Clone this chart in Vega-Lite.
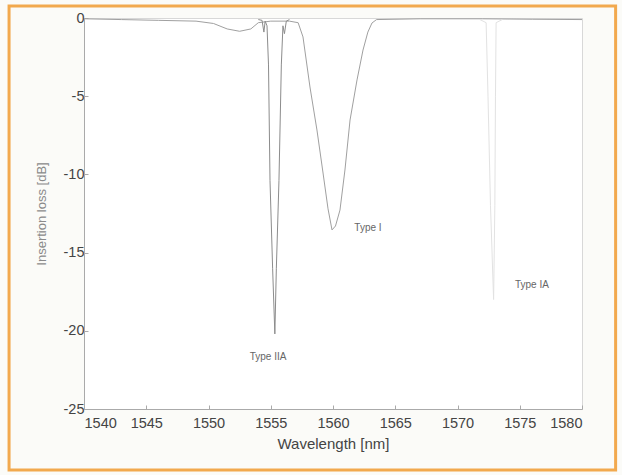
{
  "$schema": "https://vega.github.io/schema/vega-lite/v6.json",
  "width": 498,
  "height": 391,
  "autosize": {"type": "none"},
  "padding": {"left": 84, "top": 18, "right": 40, "bottom": 66},
  "background": "#fbfbf8",
  "config": {
    "view": {"stroke": "#d8d8d8", "strokeWidth": 1, "fill": "#ffffff"},
    "font": "Liberation Sans",
    "axis": {
      "grid": false,
      "domainColor": "#aaaaaa",
      "tickColor": "#aaaaaa",
      "labelColor": "#444444",
      "labelFontSize": 14.5,
      "labelFont": "Liberation Sans",
      "titleFont": "Liberation Sans",
      "titleFontWeight": "normal"
    }
  },
  "datasets": {
    "curves": [
      {"wl": 1540, "loss": -0.05, "grating": "Type I"},
      {"wl": 1543, "loss": -0.1, "grating": "Type I"},
      {"wl": 1546, "loss": -0.15, "grating": "Type I"},
      {"wl": 1549, "loss": -0.2, "grating": "Type I"},
      {"wl": 1550.4, "loss": -0.35, "grating": "Type I"},
      {"wl": 1551.5, "loss": -0.7, "grating": "Type I"},
      {"wl": 1552.5, "loss": -0.85, "grating": "Type I"},
      {"wl": 1553.4, "loss": -0.7, "grating": "Type I"},
      {"wl": 1554, "loss": -0.3, "grating": "Type I"},
      {"wl": 1555, "loss": -0.2, "grating": "Type I"},
      {"wl": 1556.5, "loss": -0.2, "grating": "Type I"},
      {"wl": 1557.2, "loss": -0.3, "grating": "Type I"},
      {"wl": 1557.59, "loss": -1.21, "grating": "Type I"},
      {"wl": 1558.15, "loss": -4.41, "grating": "Type I"},
      {"wl": 1558.71, "loss": -7.16, "grating": "Type I"},
      {"wl": 1559.2, "loss": -9.91, "grating": "Type I"},
      {"wl": 1559.6, "loss": -12.2, "grating": "Type I"},
      {"wl": 1559.92, "loss": -13.55, "grating": "Type I"},
      {"wl": 1560.2, "loss": -13.3, "grating": "Type I"},
      {"wl": 1560.56, "loss": -12.28, "grating": "Type I"},
      {"wl": 1560.96, "loss": -9.72, "grating": "Type I"},
      {"wl": 1561.37, "loss": -6.52, "grating": "Type I"},
      {"wl": 1561.93, "loss": -3.96, "grating": "Type I"},
      {"wl": 1562.41, "loss": -2.05, "grating": "Type I"},
      {"wl": 1562.8, "loss": -0.9, "grating": "Type I"},
      {"wl": 1563.13, "loss": -0.32, "grating": "Type I"},
      {"wl": 1563.5, "loss": -0.1, "grating": "Type I"},
      {"wl": 1567, "loss": -0.05, "grating": "Type I"},
      {"wl": 1572, "loss": -0.05, "grating": "Type I"},
      {"wl": 1576, "loss": -0.08, "grating": "Type I"},
      {"wl": 1580, "loss": -0.1, "grating": "Type I"},
      {"wl": 1554.0, "loss": -0.1, "grating": "Type IIA"},
      {"wl": 1554.3, "loss": -0.15, "grating": "Type IIA"},
      {"wl": 1554.45, "loss": -0.9, "grating": "Type IIA"},
      {"wl": 1554.55, "loss": -0.2, "grating": "Type IIA"},
      {"wl": 1554.7, "loss": -0.5, "grating": "Type IIA"},
      {"wl": 1554.82, "loss": -3, "grating": "Type IIA"},
      {"wl": 1554.94, "loss": -10.4, "grating": "Type IIA"},
      {"wl": 1555.15, "loss": -16, "grating": "Type IIA"},
      {"wl": 1555.33, "loss": -20.2, "grating": "Type IIA"},
      {"wl": 1555.45, "loss": -16, "grating": "Type IIA"},
      {"wl": 1555.66, "loss": -10.4, "grating": "Type IIA"},
      {"wl": 1555.85, "loss": -3, "grating": "Type IIA"},
      {"wl": 1555.98, "loss": -0.5, "grating": "Type IIA"},
      {"wl": 1556.1, "loss": -1.0, "grating": "Type IIA"},
      {"wl": 1556.25, "loss": -0.2, "grating": "Type IIA"},
      {"wl": 1556.5, "loss": -0.1, "grating": "Type IIA"},
      {"wl": 1571.8, "loss": -0.1, "grating": "Type IA"},
      {"wl": 1572.3, "loss": -0.3, "grating": "Type IA"},
      {"wl": 1572.45, "loss": -5, "grating": "Type IA"},
      {"wl": 1572.65, "loss": -12, "grating": "Type IA"},
      {"wl": 1572.9, "loss": -18, "grating": "Type IA"},
      {"wl": 1573.0, "loss": -12, "grating": "Type IA"},
      {"wl": 1573.05, "loss": -5, "grating": "Type IA"},
      {"wl": 1573.1, "loss": -0.3, "grating": "Type IA"},
      {"wl": 1573.6, "loss": -0.1, "grating": "Type IA"}
    ],
    "labels": [
      {"wl": 1554.78, "loss": -21.7, "text": "Type IIA"},
      {"wl": 1562.81, "loss": -13.43, "text": "Type I"},
      {"wl": 1575.98, "loss": -17.07, "text": "Type IA"}
    ]
  },
  "layer": [
    {
      "data": {"values": [{}]},
      "mark": {"type": "rect", "fill": "transparent", "stroke": "#f2a94e", "strokeWidth": 3, "clip": false},
      "encoding": {
        "x": {"datum": 1533.98, "type": "quantitative"},
        "x2": {"datum": 1582.7},
        "y": {"datum": 0.77, "type": "quantitative"},
        "y2": {"datum": -28.9}
      }
    },
    {
      "data": {"name": "curves"},
      "mark": {"type": "line", "strokeWidth": 1, "interpolate": "linear"},
      "encoding": {
        "x": {
          "field": "wl", "type": "quantitative",
          "scale": {"domain": [1540, 1580], "nice": false, "zero": false},
          "axis": {
            "title": "Wavelength [nm]", "titleFontSize": 15, "titleColor": "#444444",
            "titlePadding": 7, "values": [1540, 1545, 1550, 1555, 1560, 1565, 1570, 1575, 1580],
            "tickSize": -4, "labelPadding": 11, "labelExpr": "toString(datum.value)"
          }
        },
        "y": {
          "field": "loss", "type": "quantitative",
          "scale": {"domain": [-25, 0], "nice": false, "zero": false},
          "axis": {
            "title": "Insertion loss [dB]", "titleFontSize": 13, "titleColor": "#8a8a8a",
            "titlePadding": 15, "values": [-25, -20, -15, -10, -5, 0], "tickSize": -4, "labelPadding": 4,
            "labelExpr": "toString(datum.value)"
          }
        },
        "color": {
          "field": "grating", "type": "nominal",
          "scale": {"domain": ["Type I", "Type IIA", "Type IA"], "range": ["#a0a0a0", "#8c8c8c", "#e2e2e2"]},
          "legend": null
        },
        "detail": {"field": "grating"}
      }
    },
    {
      "data": {"name": "labels"},
      "mark": {"type": "text", "fontSize": 10, "color": "#666666", "font": "Liberation Sans"},
      "encoding": {
        "x": {"field": "wl", "type": "quantitative"},
        "y": {"field": "loss", "type": "quantitative"},
        "text": {"field": "text"}
      }
    }
  ]
}
